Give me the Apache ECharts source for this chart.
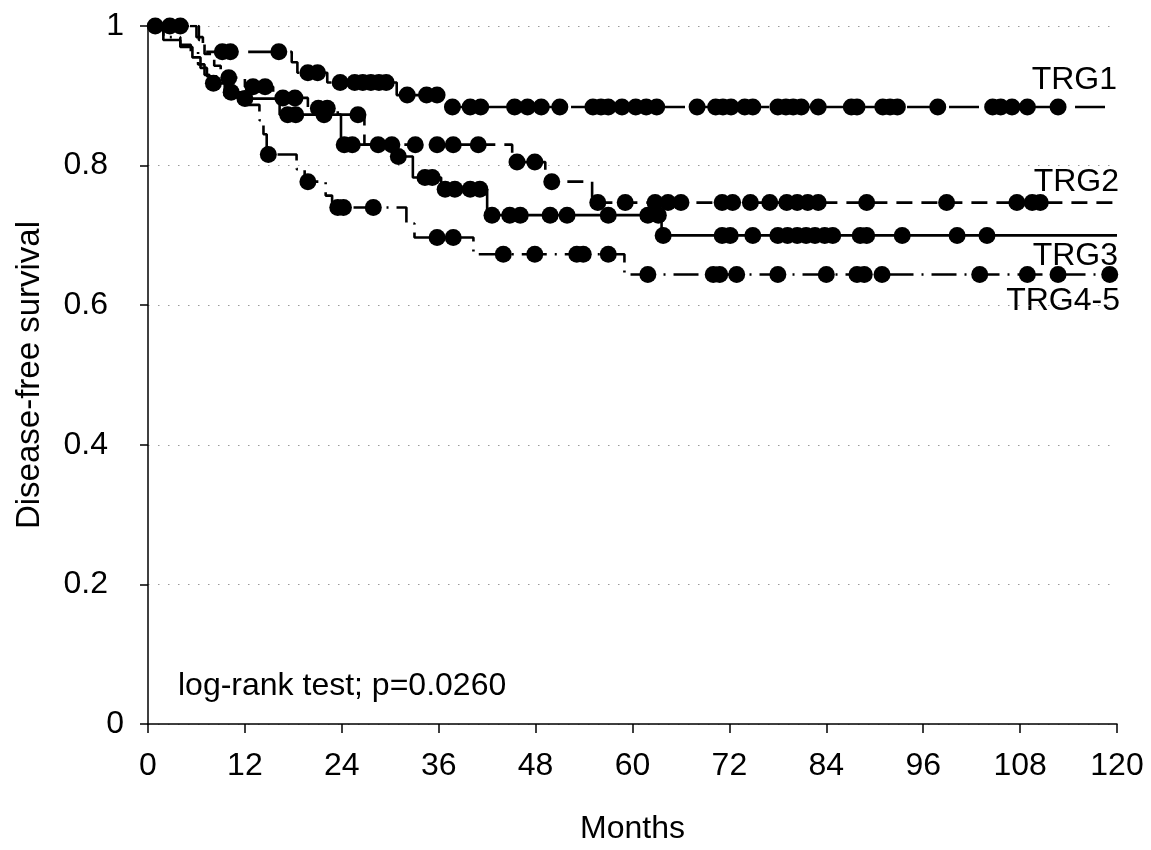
<!DOCTYPE html>
<html><head><meta charset="utf-8">
<script src="https://cdn.jsdelivr.net/npm/echarts/dist/echarts.min.js"></script>
<style>html,body{margin:0;padding:0;background:#fff}#c{width:1151px;height:850px}</style>
</head><body><div id="c"></div>
<script>
// ---- data (months, survival) ----
const xTicks = [0, 12, 24, 36, 48, 60, 72, 84, 96, 108, 120];
const yTicks = [0, 0.2, 0.4, 0.6, 0.8, 1];
const groupNames = ['TRG1', 'TRG2', 'TRG3', 'TRG4-5'];

const trg1Steps = [[0,1],[6.0,0.984],[6.8,0.963],[17.8,0.948],[18.5,0.933],[22.2,0.919],[30.8,0.901],[37.0,0.884]];
const trg1End = 120;
const trg1Censored = [2.7,4.0,9.2,10.2,16.2,19.8,21.0,23.8,25.6,26.6,27.6,28.6,29.5,32.1,34.5,35.8,
  37.7,39.9,41.2,45.4,47.0,48.7,51.0,55.1,56.1,57.0,58.7,60.4,61.7,63.0,68.0,70.3,71.2,72.2,73.9,74.9,
  78.0,79.0,79.9,80.9,83.0,87.1,87.8,91.0,91.9,92.8,97.8,104.6,105.6,107.0,108.9,112.7];

const trg2Steps = [[0,1],[6.3,0.98],[7.0,0.96],[8.2,0.943],[9.0,0.926],[12.0,0.913],[15.5,0.897],[19.8,0.882],
  [23.5,0.873],[26.8,0.83],[45.1,0.805],[49.2,0.777],[55.0,0.747]];
const trg2End = 120;
const trg2Censored = [10.0,13.0,14.5,16.7,18.2,21.1,22.2,26.0,28.5,30.2,33.1,35.8,37.8,40.9,45.7,47.9,50.0,
  55.7,59.1,62.8,64.4,66.0,71.1,72.4,74.6,77.0,79.1,80.4,81.7,83.0,89.0,98.9,107.6,109.5,110.5];

const trg3Steps = [[0,1],[1.9,0.98],[4.0,0.97],[5.5,0.955],[6.5,0.94],[7.3,0.928],[8.5,0.918],[9.8,0.905],
  [11.5,0.896],[16.3,0.873],[23.9,0.83],[30.3,0.813],[32.8,0.783],[36.3,0.766],[42.0,0.729],[63.6,0.70]];
const trg3End = 120;
const trg3Censored = [0.9,10.3,12.0,17.3,18.3,21.8,24.3,25.3,31.0,34.3,35.2,36.8,38.0,39.9,41.1,
  42.6,44.8,46.1,49.8,51.9,57.0,61.9,63.2,63.8,71.1,72.1,74.9,78.0,79.2,80.4,81.5,82.6,83.8,84.8,88.2,89.0,93.4,100.2,103.9];

const trg45Steps = [[0,1],[1.9,0.984],[4.0,0.973],[5.3,0.963],[6.2,0.945],[7.0,0.93],[7.6,0.918],[9.5,0.9],
  [12.0,0.887],[13.8,0.865],[14.3,0.845],[14.7,0.816],[18.4,0.795],[19.4,0.777],[22.0,0.757],[22.8,0.74],
  [32.0,0.717],[33.0,0.697],[40.3,0.673],[59.0,0.644]];
const trg45End = 119.1;
const trg45Censored = [8.1,14.9,19.8,23.5,24.2,27.9,35.8,37.8,44.0,47.9,53.1,53.9,57.0,
  61.9,70.0,70.8,72.9,78.0,84.0,87.8,88.7,90.9,103.0,108.9,112.7,119.1];

const testText = 'log-rank test; p=0.0260';

// ---- build ----
function survAt(steps, t) {
  let v = steps[0][1];
  for (const s of steps) { if (s[0] <= t) v = s[1]; }
  return v;
}
function lineData(steps, end) {
  return steps.concat([[end, steps[steps.length - 1][1]]]);
}
const groups = [
  {steps: trg1Steps, end: trg1End, cens: trg1Censored, dash: [30, 12]},
  {steps: trg2Steps, end: trg2End, cens: trg2Censored, dash: [16, 9]},
  {steps: trg3Steps, end: trg3End, cens: trg3Censored, dash: 'solid'},
  {steps: trg45Steps, end: trg45End, cens: trg45Censored, dash: [25, 8, 2, 8]}
];
const series = [];
groups.forEach((g, i) => {
  series.push({
    name: groupNames[i], type: 'line', step: 'end', symbol: 'none', z: 2,
    data: lineData(g.steps, g.end),
    lineStyle: {color: '#000', width: 2.6, type: g.dash}
  });
  series.push({
    name: groupNames[i] + ' censored', type: 'scatter', symbol: 'circle', symbolSize: 17, z: 3,
    data: g.cens.map(t => [t, survAt(g.steps, t)]),
    itemStyle: {color: '#000', opacity: 1}
  });
});

const font = 'Liberation Sans, Arial, sans-serif';
const fs = 32;
const chart = echarts.init(document.getElementById('c'), null, {renderer: 'canvas'});
chart.setOption({
  animation: false,
  backgroundColor: '#fff',
  grid: {left: 148, right: 34, top: 26, bottom: 124},
  xAxis: {
    type: 'value', min: xTicks[0], max: xTicks[xTicks.length - 1], interval: 12,
    name: 'Months', nameLocation: 'middle', nameGap: 89,
    nameTextStyle: {fontFamily: font, fontSize: fs, color: '#000'},
    axisLine: {show: true, onZero: false, lineStyle: {color: '#000', width: 1.5}},
    axisTick: {show: true, length: 9, lineStyle: {color: '#000', width: 1.5}},
    axisLabel: {fontFamily: font, fontSize: fs, color: '#000', margin: 26},
    splitLine: {show: false}
  },
  yAxis: {
    type: 'value', min: yTicks[0], max: yTicks[yTicks.length - 1], interval: 0.2,
    name: 'Disease-free survival', nameLocation: 'middle', nameGap: 102,
    nameTextStyle: {fontFamily: font, fontSize: 33, color: '#000'},
    axisLine: {show: true, lineStyle: {color: '#000', width: 1.5}},
    axisTick: {show: true, length: 8, lineStyle: {color: '#000', width: 1.5}},
    axisLabel: {fontFamily: font, fontSize: fs, color: '#000', margin: 24,
      formatter: v => {
        const s = String(Math.round(v * 10) / 10);
        return s.indexOf('.') >= 0 ? '{d|' + s + '}' : '{i|' + s + '}';
      },
      rich: {
        d: {fontFamily: font, fontSize: fs, color: '#000', padding: [0, 16, 0, 0]},
        i: {fontFamily: font, fontSize: fs, color: '#000'}
      }
    },
    splitLine: {show: true, lineStyle: {color: '#9a9a9a', width: 1.2, type: [1.5, 8.5]}}
  },
  series: series,
  graphic: [
    {type: 'text', right: 34, top: 64, style: {text: groupNames[0], font: fs + 'px ' + font, fill: '#000'}},
    {type: 'text', right: 32, top: 166, style: {text: groupNames[1], font: fs + 'px ' + font, fill: '#000'}},
    {type: 'text', right: 33, top: 240, style: {text: groupNames[2], font: fs + 'px ' + font, fill: '#000'}},
    {type: 'text', right: 31, top: 285, style: {text: groupNames[3], font: fs + 'px ' + font, fill: '#000'}},
    {type: 'text', left: 178, top: 670, style: {text: testText, font: fs + 'px ' + font, fill: '#000'}}
  ]
});
</script></body></html>
